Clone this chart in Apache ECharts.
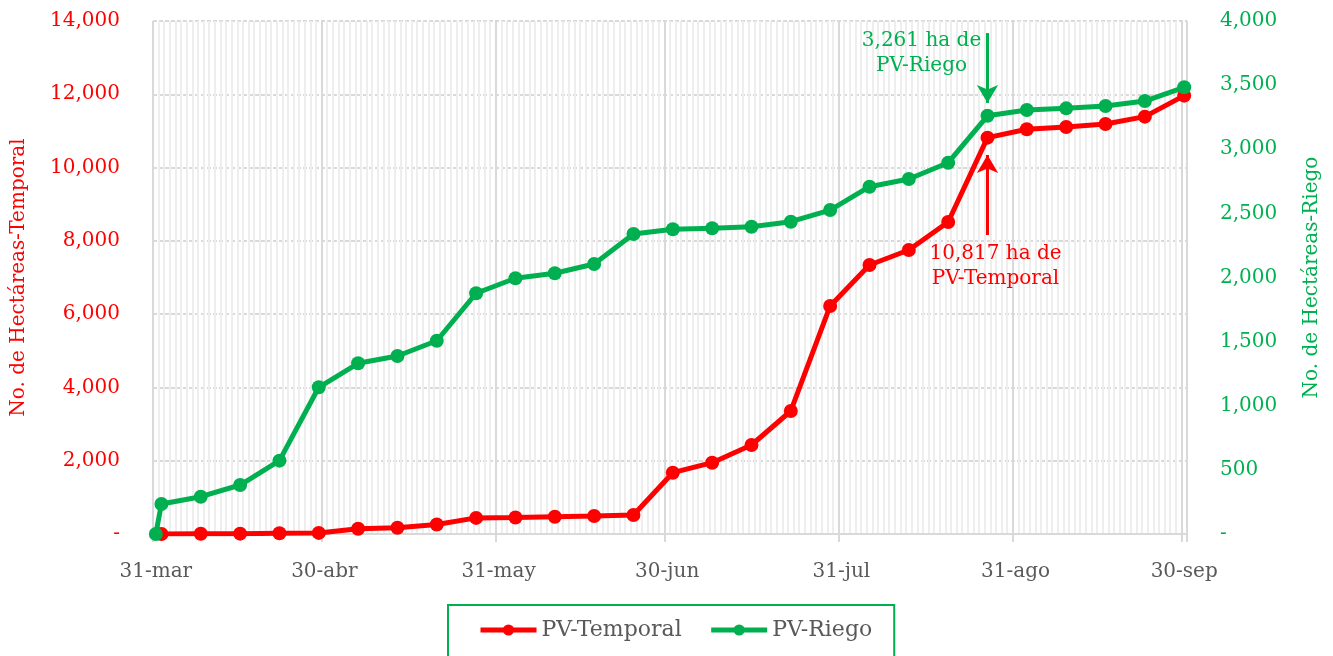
<!DOCTYPE html>
<html>
<head>
<meta charset="utf-8">
<script src="https://cdn.jsdelivr.net/npm/echarts@6/dist/echarts.min.js"></script>
<style>
html,body{margin:0;padding:0;background:#fff;}
#chart{width:1333px;height:656px;}
</style>
</head>
<body>
<div id="chart"></div>
<script>
// ---- data ----
const dates = ['2023-03-31','2023-04-01','2023-04-08','2023-04-15','2023-04-22','2023-04-29',
  '2023-05-06','2023-05-13','2023-05-20','2023-05-27','2023-06-03','2023-06-10','2023-06-17',
  '2023-06-24','2023-07-01','2023-07-08','2023-07-15','2023-07-22','2023-07-29','2023-08-05',
  '2023-08-12','2023-08-19','2023-08-26','2023-09-02','2023-09-09','2023-09-16','2023-09-23','2023-09-30'];
const temporal = [null, 0, 5, 10, 20, 30, 145, 170, 260, 440, 450, 470, 490, 518, 1673, 1946, 2429,
  3357, 6223, 7341, 7751, 8515, 10817, 11045, 11108, 11190, 11390, 11963];
const riego = [0, 234, 291, 382, 572, 1144, 1331, 1388, 1507, 1877, 1994, 2033, 2105, 2339, 2376,
  2384, 2396, 2435, 2526, 2708, 2768, 2895, 3261, 3306, 3319, 3337, 3376, 3483];
const axisStart = '2023-03-31';
const axisEnd = '2023-09-30';
const monthTicks = ['2023-03-31','2023-04-30','2023-05-31','2023-06-30','2023-07-31','2023-08-31','2023-09-30'];
const monthNames = ['ene','feb','mar','abr','may','jun','jul','ago','sep','oct','nov','dic'];
const annotDate = '2023-08-26';
const riegoArrow = [3906, 3361];
const temporalArrow = [8160, 10344];
const riegoLabelY = 3745;
const temporalLabelY = 7300;

// ---- derived ----
const days = [];
(function(){
  let d = new Date(axisStart + 'T00:00:00Z');
  const e = new Date(axisEnd + 'T00:00:00Z');
  while (d <= e) { days.push(d.toISOString().slice(0,10)); d = new Date(d.getTime() + 86400000); }
})();
const fmtNum = v => v === 0 ? '-' : Number(v).toLocaleString('en-US');
const fmtDate = s => parseInt(s.slice(8,10),10) + '-' + monthNames[parseInt(s.slice(5,7),10)-1];
const isMonthTick = (i, v) => monthTicks.indexOf(v) >= 0;
const aIdx = dates.indexOf(annotDate);

const RED = '#FF0000', GREEN = '#00B050', GRAY = '#595959';
const FONT = 'DejaVu Serif';

const chart = echarts.init(document.getElementById('chart'));
chart.setOption({
  animation: false,
  textStyle: { fontFamily: FONT },
  grid: { left: 153, right: 146, top: 21, bottom: 122 },
  xAxis: [
    {
      type: 'category', data: days, position: 'bottom', boundaryGap: true,
      axisLine: { show: false }, axisTick: { show: false }, axisLabel: { show: false },
      splitLine: { show: true, interval: 0, lineStyle: { color: '#eeeeee', width: 2 } }
    },
    {
      type: 'category', data: days, position: 'bottom', boundaryGap: true,
      axisLine: { show: true, lineStyle: { color: '#d9d9d9', width: 2 } },
      axisTick: { show: true, interval: isMonthTick, length: 8, lineStyle: { color: '#d9d9d9', width: 2 } },
      axisLabel: { show: true, interval: isMonthTick, formatter: fmtDate, color: GRAY,
        fontFamily: FONT, fontSize: 20, margin: 28 },
      splitLine: { show: true, interval: isMonthTick, lineStyle: { color: '#d9d9d9', width: 2 } }
    }
  ],
  yAxis: [
    {
      type: 'value', min: 0, max: 14000, interval: 2000, position: 'left',
      name: 'No. de Hectáreas-Temporal', nameLocation: 'middle', nameGap: 124, nameRotate: 90,
      nameTextStyle: { color: RED, fontFamily: FONT, fontSize: 20 },
      axisLine: { show: false }, axisTick: { show: false },
      axisLabel: { color: RED, fontFamily: FONT, fontSize: 20, margin: 33, formatter: fmtNum },
      splitLine: { show: true, lineStyle: { color: '#d9d9d9', width: 2, type: [4, 2] } }
    },
    {
      type: 'value', min: 0, max: 4000, interval: 500, position: 'right',
      name: 'No. de Hectáreas-Riego', nameLocation: 'middle', nameGap: 115, nameRotate: 90,
      nameTextStyle: { color: GREEN, fontFamily: FONT, fontSize: 20 },
      axisLine: { show: false }, axisTick: { show: false },
      axisLabel: { color: GREEN, fontFamily: FONT, fontSize: 20, margin: 33, formatter: fmtNum },
      splitLine: { show: false }
    }
  ],
  legend: {
    data: ['PV-Temporal', 'PV-Riego'],
    left: 448, top: 605,
    itemWidth: 56, itemHeight: 14, itemGap: 27,
    padding: [14, 22, 60, 30],
    borderColor: GREEN, borderWidth: 2,
    lineStyle: { width: 5 },
    textStyle: { color: GRAY, fontFamily: FONT, fontSize: 22 }
  },
  series: [
    {
      name: 'PV-Temporal', type: 'line', xAxisIndex: 1, yAxisIndex: 0,
      data: dates.map((d, i) => [d, temporal[i]]),
      symbol: 'circle', symbolSize: 14, showSymbol: true, showAllSymbol: true,
      lineStyle: { color: RED, width: 5 }, itemStyle: { color: RED },
      markLine: {
        silent: true, symbol: ['none', 'arrow'], symbolSize: [16, 18],
        lineStyle: { color: RED, width: 3, type: 'solid' }, label: { show: false },
        data: [[{ coord: [annotDate, temporalArrow[0]] }, { coord: [annotDate, temporalArrow[1]] }]]
      },
      markPoint: {
        silent: true, symbol: 'circle', symbolSize: 1, itemStyle: { color: 'rgba(0,0,0,0)' },
        label: { show: true, position: 'inside', offset: [8, 0], color: RED, fontFamily: FONT,
          fontSize: 20, lineHeight: 25, align: 'center',
          formatter: () => fmtNum(temporal[aIdx]) + ' ha de\nPV-Temporal' },
        data: [{ coord: [annotDate, temporalLabelY] }]
      }
    },
    {
      name: 'PV-Riego', type: 'line', xAxisIndex: 1, yAxisIndex: 1,
      data: dates.map((d, i) => [d, riego[i]]),
      symbol: 'circle', symbolSize: 14, showSymbol: true, showAllSymbol: true,
      lineStyle: { color: GREEN, width: 5 }, itemStyle: { color: GREEN },
      markLine: {
        silent: true, symbol: ['none', 'arrow'], symbolSize: [16, 18],
        lineStyle: { color: GREEN, width: 3, type: 'solid' }, label: { show: false },
        data: [[{ coord: [annotDate, riegoArrow[0]] }, { coord: [annotDate, riegoArrow[1]] }]]
      },
      markPoint: {
        silent: true, symbol: 'circle', symbolSize: 1, itemStyle: { color: 'rgba(0,0,0,0)' },
        label: { show: true, position: 'inside', offset: [-66, 0], color: GREEN, fontFamily: FONT,
          fontSize: 20, lineHeight: 25, align: 'center',
          formatter: () => fmtNum(riego[aIdx]) + ' ha de\nPV-Riego' },
        data: [{ coord: [annotDate, riegoLabelY] }]
      }
    }
  ]
});
</script>
</body>
</html>
